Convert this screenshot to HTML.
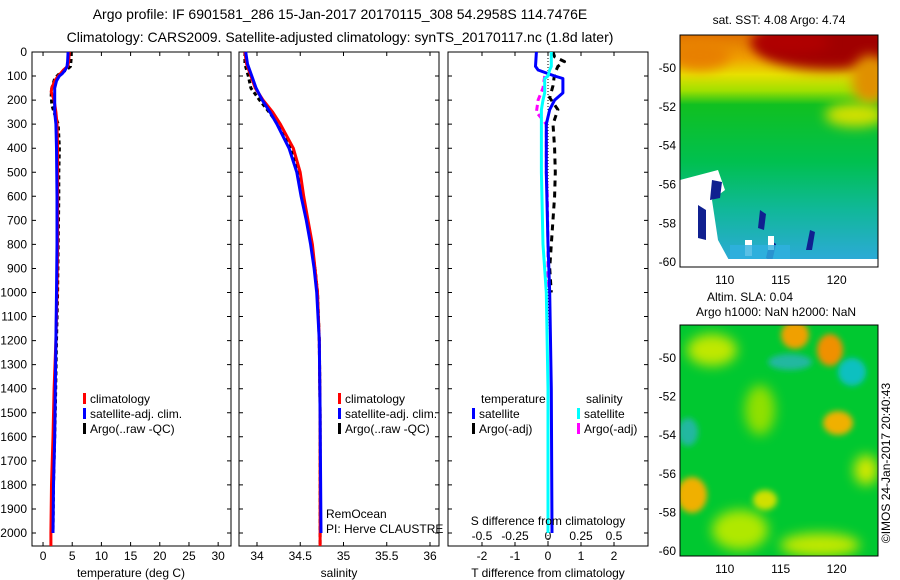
<!DOCTYPE html>
<html><head><meta charset="utf-8"><style>
body{margin:0;background:#fff;}
svg{display:block;font-family:"Liberation Sans",sans-serif;}
text{fill:#000;}
</style></head><body>
<svg id="fig" width="900" height="580" viewBox="0 0 900 580">
<defs>
<filter id="bl" x="-50%" y="-50%" width="200%" height="200%"><feGaussianBlur stdDeviation="6"/></filter>
<filter id="bl2" x="-50%" y="-50%" width="200%" height="200%"><feGaussianBlur stdDeviation="3"/></filter>
<clipPath id="c1"><rect x="680" y="35" width="198" height="232"/></clipPath>
<clipPath id="c2"><rect x="680" y="325" width="198" height="231"/></clipPath>
<linearGradient id="sstg" x1="0" y1="0" x2="0" y2="1">
<stop offset="0" stop-color="#e07000"/><stop offset="0.1" stop-color="#f0a000"/><stop offset="0.17" stop-color="#e8e000"/>
<stop offset="0.24" stop-color="#a0e000"/><stop offset="0.3" stop-color="#10c020"/><stop offset="0.55" stop-color="#00c050"/>
<stop offset="0.75" stop-color="#10b898"/><stop offset="1" stop-color="#30a8e0"/></linearGradient>
</defs>
<text x="340" y="19" font-size="14" text-anchor="middle">Argo profile: IF 6901581_286 15-Jan-2017 20170115_308 54.2958S 114.7476E</text>
<text x="340" y="42" font-size="14" text-anchor="middle">Climatology: CARS2009. Satellite-adjusted climatology: synTS_20170117.nc (1.8d later)</text>
<g id="plots"></g>

<g>
<g clip-path="url(#c1)">
<rect x="680" y="35" width="198" height="232" fill="url(#sstg)"/>
<ellipse cx="830" cy="45" rx="75" ry="25" fill="#a00000" filter="url(#bl)"/>
<ellipse cx="790" cy="42" rx="40" ry="12" fill="#b00000" filter="url(#bl)"/>
<ellipse cx="870" cy="80" rx="18" ry="25" fill="#e09000" filter="url(#bl)"/>
<ellipse cx="855" cy="115" rx="30" ry="12" fill="#d0e000" filter="url(#bl)"/>
<ellipse cx="700" cy="55" rx="30" ry="15" fill="#e88000" filter="url(#bl)"/>
<path d="M680 180 L718 170 L725 190 L712 200 L718 240 L730 262 L680 267 Z" fill="#ffffff"/>
<path d="M712 180 L722 182 L720 198 L710 200 Z M698 205 L706 210 L706 240 L698 238 Z M760 210 L766 214 L764 230 L758 228 Z M770 240 L776 244 L772 262 L766 258 Z M810 230 L815 232 L812 250 L806 250 Z" fill="#102090"/>
<path d="M698 185 L706 185 L704 196 L696 196 Z M768 236 L774 236 L774 250 L768 250 Z M745 240 L752 240 L752 256 L745 256 Z" fill="#fff"/>
<rect x="680" y="259" width="198" height="8" fill="#fff"/>
<rect x="730" y="245" width="60" height="14" fill="#30b0e0" opacity="0.8"/>
</g>
<rect x="680" y="35" width="198" height="232" fill="none" stroke="#000"/>
<text x="779" y="24" font-size="12" text-anchor="middle">sat. SST: 4.08 Argo: 4.74</text>
</g>

<g>
<g clip-path="url(#c2)">
<rect x="680" y="325" width="198" height="231" fill="#00c830"/>
<ellipse cx="795" cy="335" rx="14" ry="14" fill="#f0a000" filter="url(#bl2)"/>
<ellipse cx="830" cy="350" rx="13" ry="16" fill="#f09000" filter="url(#bl2)"/>
<ellipse cx="838" cy="423" rx="15" ry="12" fill="#f0b000" filter="url(#bl2)"/>
<ellipse cx="692" cy="495" rx="15" ry="18" fill="#f0b000" filter="url(#bl2)"/>
<ellipse cx="790" cy="362" rx="22" ry="8" fill="#20b8a0" filter="url(#bl2)"/>
<ellipse cx="852" cy="372" rx="14" ry="14" fill="#10c0c0" filter="url(#bl2)"/>
<ellipse cx="688" cy="432" rx="10" ry="14" fill="#20b8a0" filter="url(#bl2)"/>
<ellipse cx="712" cy="350" rx="25" ry="16" fill="#c0e800" filter="url(#bl)"/>
<ellipse cx="740" cy="530" rx="28" ry="20" fill="#b0e800" filter="url(#bl)"/>
<ellipse cx="820" cy="545" rx="40" ry="12" fill="#c0e800" filter="url(#bl)"/>
<ellipse cx="760" cy="410" rx="15" ry="25" fill="#90e000" filter="url(#bl)"/>
<ellipse cx="866" cy="470" rx="12" ry="15" fill="#d0e800" filter="url(#bl)"/>
<ellipse cx="765" cy="500" rx="12" ry="10" fill="#d0e000" filter="url(#bl2)"/>
</g>
<rect x="680" y="325" width="198" height="231" fill="none" stroke="#000"/>
<text x="750" y="301" font-size="12" text-anchor="middle">Altim. SLA: 0.04</text>
<text x="776" y="316" font-size="12" text-anchor="middle">Argo h1000: NaN h2000: NaN</text>
</g>
<text transform="translate(890,463) rotate(-90)" font-size="12" text-anchor="middle">©IMOS 24-Jan-2017 20:40:43</text>
</svg>
<script>
// ---------- data ----------
const tDepth=[0,40,60,75,90,100,120,150,165,200,250,300,400,600,800,1000,1200,1400,1600,1800,2000,2054];
const tClim=[4.5,4.4,4.2,3.5,3.0,2.6,2.0,1.5,1.4,1.9,2.2,2.4,2.5,2.5,2.5,2.4,2.2,1.9,1.7,1.45,1.35,1.35];
const tSat=[4.3,4.2,4.1,3.8,3.3,2.8,2.3,2.0,2.0,2.0,2.0,2.2,2.3,2.4,2.4,2.3,2.2,2.1,2.0,1.8,1.7,1.7];
const aDepth=[0,30,60,75,90,110,150,180,220,260,300,400,500,600,800,1000,1200,1500,1800,2000];
const tArgo=[4.8,4.8,4.7,4.0,2.8,2.0,1.5,1.4,1.5,2.0,2.6,2.8,2.7,2.7,2.6,2.5,2.3,2.1,1.8,1.7];
const sDepth=[0,50,100,150,200,250,300,400,500,600,700,800,900,1000,1200,1500,2000,2054];
const sClim=[33.86,33.88,33.93,33.98,34.07,34.18,34.27,34.42,34.50,34.54,34.59,34.64,34.67,34.70,34.72,34.73,34.73,34.73];
const sSat=[33.87,33.89,33.94,33.99,34.06,34.15,34.23,34.37,34.46,34.51,34.57,34.62,34.66,34.69,34.72,34.73,34.74,34.74];
const sArgo=[33.86,33.86,33.90,33.93,34.03,34.14,34.24,34.40,34.48,34.53,34.58,34.63,34.67,34.70,34.72,34.73,34.73,34.73];
const dDepth=[0,60,75,100,110,170,200,240,300,500,800,1000,1400,2000];
const dTSat=[-0.35,-0.38,-0.3,0.2,0.45,0.45,0.2,0.05,-0.05,-0.05,0.0,0.05,0.1,0.12];
const dTArgoDepth=[0,20,40,60,90,140,190,240,300,400,500,600,800,900,1000];
const dTArgo=[0.15,0.2,0.5,0.3,0.2,0.15,0.05,0.3,0.15,0.2,0.22,0.2,0.1,0.05,0.1];
const dSSat=[0.1,0.1,0.05,0.0,-0.1,-0.1,-0.15,-0.2,-0.2,-0.2,-0.15,-0.05,0.0,0.0];
const dSArgoDepth=[100,150,200,250,300,400,500,600,800,1000];
const dSArgo=[-0.1,-0.15,-0.3,-0.35,-0.05,-0.05,-0.05,-0.02,0.0,0.0];
const depthTicks=[0,100,200,300,400,500,600,700,800,900,1000,1100,1200,1300,1400,1500,1600,1700,1800,1900,2000];
const tTicks=[0,5,10,15,20,25,30];
const sTicks=[34,34.5,35,35.5,36];
const dTicks=[-2,-1,0,1,2];
const dSTickLabels=["-0.5","-0.25","0","0.25","0.5"];
const dSTickVals=[-2,-1,0,1,2];
// ---------- drawing ----------
const NS="http://www.w3.org/2000/svg";
const g=document.getElementById('plots');
const Y0=52,YB=546;
const yS=d=>Y0+d*0.2405;
function mk(tag,at,parent){const e=document.createElementNS(NS,tag);for(const k in at)e.setAttribute(k,at[k]);(parent||g).appendChild(e);return e;}
function panel(x0,x1,xmin,xmax,name){
  const xs=v=>x0+(v-xmin)/(xmax-xmin)*(x1-x0);
  const r=mk('rect',{x:x0,y:Y0,width:x1-x0,height:YB-Y0,fill:'none',stroke:'#000'});
  
  
  depthTicks.forEach(d=>{
    const t=mk('path',{d:`M${x0} ${yS(d)}h4M${x1} ${yS(d)}h-4`,stroke:'#000'});
    
    
  });
  return xs;
}
function ticksX(xs,vals,labels,name,x0,x1,ly){
  vals.forEach((v,i)=>{
    const t=mk('path',{d:`M${xs(v)} ${YB}v-4M${xs(v)} ${Y0}v4`,stroke:'#000'});
    
    
    const tx=mk('text',{x:xs(v),y:ly,'font-size':12,'text-anchor':'middle'});
    tx.textContent=labels[i];
    
    
  });
}
function line(xs,depths,vals,color,w,name,dash){
  const pts=depths.map((d,i)=>xs(vals[i]).toFixed(1)+','+yS(d).toFixed(1)).join(' ');
  const a={points:pts,fill:'none',stroke:color,'stroke-width':w,'stroke-linejoin':'round'};
  if(dash)a['stroke-dasharray']=dash;
  const p=mk('polyline',a);
  
  
}
function txt(x,y,s,name,anchor,size){
  const t=mk('text',{x:x,y:y,'font-size':size||12,'text-anchor':anchor||'start'});
  t.textContent=s;
  
  
}
function legItem(x,y,color,label,name){
  const r=mk('rect',{x:x,y:y-10,width:3,height:11,fill:color});
  
  
  txt(x+7,y,label,name);
}
depthTicks.forEach(d=>txt(27,yS(d)+4,String(d),'depth-tick-label','end'));
const xT=panel(32,231,-1.89,32.2,'temperature-panel');
ticksX(xT,tTicks,tTicks.map(String),'temperature',32,231,560);
line(xT,aDepth,tArgo,'#000',3,'temperature-argo-line','4,3');
line(xT,tDepth,tClim,'#ff0000',3,'temperature-climatology-line');
line(xT,tDepth.slice(0,21),tSat.slice(0,21),'#0000ff',3,'temperature-satellite-line');
txt(131,577,'temperature (deg C)','temperature-x-axis-title','middle');
legItem(83,403,'#ff0000','climatology','temperature-legend-climatology');
legItem(83,418,'#0000ff','satellite-adj. clim.','temperature-legend-satellite');
legItem(83,433,'#000','Argo(..raw -QC)','temperature-legend-argo');
const xS=panel(239,439,33.792,36.104,'salinity-panel');
ticksX(xS,sTicks,sTicks.map(String),'salinity',239,439,560);
line(xS,sDepth,sArgo,'#000',3,'salinity-argo-line','4,3');
line(xS,sDepth,sClim,'#ff0000',3,'salinity-climatology-line');
line(xS,sDepth.slice(0,17),sSat.slice(0,17),'#0000ff',3,'salinity-satellite-line');
txt(339,577,'salinity','salinity-x-axis-title','middle');
legItem(338,403,'#ff0000','climatology','salinity-legend-climatology');
legItem(338,418,'#0000ff','satellite-adj. clim.','salinity-legend-satellite');
legItem(338,433,'#000','Argo(..raw -QC)','salinity-legend-argo');
txt(326,518,'RemOcean','project-label');
txt(326,533,'PI: Herve CLAUSTRE','pi-label');
const xD=panel(448,648,-3.03,3.03,'difference-panel');
ticksX(xD,dTicks,dTicks.map(String),'t-difference',448,648,560);
dSTickVals.forEach((v,i)=>txt(xD(v),540,dSTickLabels[i],'s-difference-tick-label','middle'));
line(xD,[0,2054],[0,0],'#000',1,'zero-reference-line','1,2');
line(xD,dTArgoDepth,dTArgo,'#000',3,'t-difference-argo-line','6,5');
line(xD,dSArgoDepth,dSArgo,'#ff00ff',3,'s-difference-argo-line','6,4');
line(xD,dDepth,dTSat,'#0000ff',3,'t-difference-satellite-line');
line(xD,dDepth,dSSat,'#00ffff',3,'s-difference-satellite-line');
txt(548,577,'T difference from climatology','t-difference-x-axis-title','middle');
txt(548,525,'S difference from climatology','s-difference-axis-title','middle');
txt(481,403,'temperature','diff-legend-temperature-header');
txt(586,403,'salinity','diff-legend-salinity-header');
legItem(472,418,'#0000ff','satellite','diff-legend-t-satellite');
legItem(472,433,'#000','Argo(-adj)','diff-legend-t-argo');
legItem(577,418,'#00ffff','satellite','diff-legend-s-satellite');
legItem(577,433,'#ff00ff','Argo(-adj)','diff-legend-s-argo');
const lonTicks=[110,115,120];
const latTicks=[-50,-52,-54,-56,-58,-60];
function mapAxes(top,bot,name){
  const lx=v=>680+(v-106)/(123.7-106)*198;
  const ly=v=>top+(-48.3-v)/(11.95)*(bot-top);
  latTicks.forEach(v=>{
    const t=mk('path',{d:`M680 ${ly(v)}h4M878 ${ly(v)}h-4`,stroke:'#000'});
    
    
    txt(676,ly(v)+4,String(v),name+'-lat-label','end');
  });
  lonTicks.forEach(v=>{
    const t=mk('path',{d:`M${lx(v)} ${bot}v-4M${lx(v)} ${top}v4`,stroke:'#000'});
    
    
    txt(lx(v),bot+17,String(v),name+'-lon-label','middle');
  });
}
mapAxes(35,267,'sst-map');
mapAxes(325,556,'sla-map');
</script>
</body></html>
